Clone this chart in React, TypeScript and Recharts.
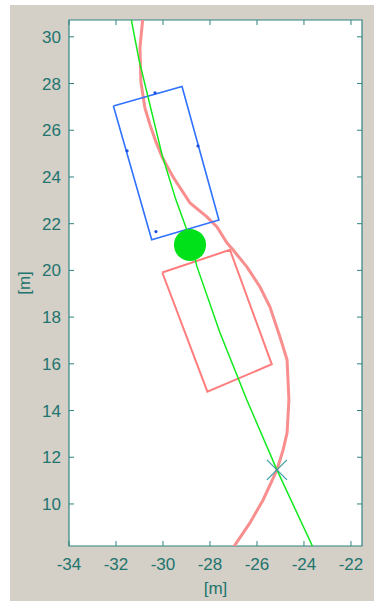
import React from 'react';
import {
  ComposedChart,
  Line,
  Scatter,
  XAxis,
  YAxis,
  CartesianGrid,
  ReferenceArea,
} from 'recharts';

// values, in metres
const xTicks = [-34, -32, -30, -28, -26, -24, -22];
const yTicks = [10, 12, 14, 16, 18, 20, 22, 24, 26, 28, 30];
const xDomain = [-34, -21.53];
const yDomain = [8.2, 30.72];

const greenPath = [
  { x: -31.4, y: 31.0 },
  { x: -31.02, y: 29.01 },
  { x: -30.04, y: 24.95 },
  { x: -29.45, y: 23.02 },
  { x: -28.94, y: 21.61 },
  { x: -28.55, y: 20.15 },
  { x: -27.57, y: 17.32 },
  { x: -26.43, y: 14.45 },
  { x: -25.15, y: 11.46 },
  { x: -23.55, y: 8.0 },
];

const redPath = [
  { x: -30.84, y: 31.0 },
  { x: -30.98, y: 29.53 },
  { x: -30.94, y: 28.07 },
  { x: -30.77, y: 26.96 },
  { x: -30.55, y: 26.23 },
  { x: -30.3, y: 25.5 },
  { x: -30.04, y: 24.86 },
  { x: -29.57, y: 24.0 },
  { x: -28.85, y: 22.89 },
  { x: -28.13, y: 22.29 },
  { x: -27.7, y: 21.86 },
  { x: -27.28, y: 21.18 },
  { x: -27.02, y: 20.88 },
  { x: -26.43, y: 20.15 },
  { x: -25.87, y: 19.29 },
  { x: -25.45, y: 18.44 },
  { x: -25.02, y: 17.15 },
  { x: -24.72, y: 16.17 },
  { x: -24.64, y: 14.45 },
  { x: -24.72, y: 13.04 },
  { x: -24.89, y: 12.31 },
  { x: -25.15, y: 11.46 },
  { x: -25.74, y: 10.17 },
  { x: -26.3, y: 9.19 },
  { x: -27.1, y: 8.0 },
];

const blueBox = [
  { x: -32.11, y: 27.04 },
  { x: -29.19, y: 27.87 },
  { x: -27.62, y: 22.16 },
  { x: -30.48, y: 21.31 },
  { x: -32.11, y: 27.04 },
];

const blueMarks = [
  { x: -30.34, y: 27.6 },
  { x: -31.53, y: 25.12 },
  { x: -28.51, y: 25.33 },
  { x: -30.3, y: 21.66 },
];

const redBox = [
  { x: -30.03, y: 19.91 },
  { x: -27.15, y: 20.88 },
  { x: -25.37, y: 15.98 },
  { x: -28.11, y: 14.81 },
  { x: -30.03, y: 19.91 },
];

const obstacle = [{ x: -28.85, y: 21.09 }];
const crossing = [{ x: -25.15, y: 11.46 }];

const AXIS = '#2f8480';
const TEXT = '#22746e';
const FONT = '"Liberation Sans", Arial, sans-serif';

const W = 374;
const H = 601;
const M = { top: 20, right: 12, bottom: 0, left: 0 };
const PLOT_H = 526;
const PLOT_W = 293;

function XTick(props: any) {
  const { x, y, payload } = props;
  return (
    <g>
      <line x1={x} x2={x} y1={y} y2={y - 5} stroke={AXIS} />
      <line x1={x} x2={x} y1={y - PLOT_H} y2={y - PLOT_H + 5} stroke={AXIS} />
      <text x={x} y={y + 24} textAnchor="middle" fontSize={17} fill={TEXT} fontFamily={FONT}>
        {payload.value}
      </text>
    </g>
  );
}

function YTick(props: any) {
  const { x, y, payload } = props;
  return (
    <g>
      <line x1={x} x2={x + 5} y1={y} y2={y} stroke={AXIS} />
      <line x1={x + PLOT_W} x2={x + PLOT_W - 5} y1={y} y2={y} stroke={AXIS} />
      <text x={x - 8} y={y + 6} textAnchor="end" fontSize={17} fill={TEXT} fontFamily={FONT}>
        {payload.value}
      </text>
    </g>
  );
}

const Disc = (props: any) => (
  <circle cx={props.cx} cy={props.cy} r={16} fill="#00e11a" />
);

const Cross = (props: any) => {
  const { cx, cy } = props;
  const s = 10;
  return (
    <g stroke="#3a9ea0" strokeWidth={1.3}>
      <line x1={cx - s} y1={cy - s} x2={cx + s} y2={cy + s} />
      <line x1={cx - s} y1={cy + s} x2={cx + s} y2={cy - s} />
    </g>
  );
};

const SmallDot = (props: any) => (
  <circle cx={props.cx} cy={props.cy} r={1.6} fill="#1f4fe0" />
);

export default function App() {
  return (
    <div style={{ position: 'absolute', left: 0, top: 0, width: W, height: H, background: '#ffffff' }}>
      <div style={{ position: 'absolute', left: 10, top: 5, right: 0, bottom: 0, background: '#d4d0c8' }} />
      <div style={{ position: 'absolute', left: 0, top: 0 }}>
        <ComposedChart width={W} height={H} margin={M}>
          <CartesianGrid fill="#ffffff" horizontal={false} vertical={false} />
          <XAxis
            type="number"
            dataKey="x"
            domain={xDomain}
            ticks={xTicks}
            allowDataOverflow
            height={55}
            tickSize={0}
            tickMargin={0}
            tickLine={false}
            axisLine={false}
            tick={XTick}
            label={{ value: '[m]', position: 'insideBottom', offset: 7, fontSize: 17, fill: TEXT, fontFamily: FONT }}
          />
          <YAxis
            type="number"
            dataKey="y"
            domain={yDomain}
            ticks={yTicks}
            allowDataOverflow
            width={69}
            tickSize={0}
            tickMargin={0}
            tickLine={false}
            axisLine={false}
            tick={YTick}
            label={{
              value: '[m]',
              angle: -90,
              position: 'insideLeft',
              offset: 24,
              fontSize: 17,
              fill: TEXT,
              fontFamily: FONT,
              style: { textAnchor: 'middle' },
            }}
          />
          <ReferenceArea
            x1={xDomain[0]}
            x2={xDomain[1]}
            y1={yDomain[0]}
            y2={yDomain[1]}
            fill="none"
            fillOpacity={0}
            stroke={AXIS}
            strokeWidth={1.2}
          />
          <Line data={redBox} dataKey="y" stroke="#ff7d7d" strokeWidth={2} dot={false} activeDot={false} isAnimationActive={false} />
          <Line data={redPath} dataKey="y" stroke="#f98e8e" strokeWidth={3} dot={false} activeDot={false} isAnimationActive={false} />
          <Line data={blueBox} dataKey="y" stroke="#2f72ff" strokeWidth={1.6} dot={false} activeDot={false} isAnimationActive={false} />
          <Scatter data={blueMarks} shape={SmallDot} isAnimationActive={false} />
          <Scatter data={obstacle} shape={Disc} isAnimationActive={false} />
          <Line data={greenPath} dataKey="y" stroke="#12ea1e" strokeWidth={1.5} dot={false} activeDot={false} isAnimationActive={false} />
          <Scatter data={crossing} shape={Cross} isAnimationActive={false} />
        </ComposedChart>
      </div>
    </div>
  );
}
